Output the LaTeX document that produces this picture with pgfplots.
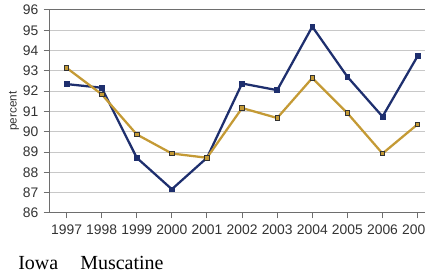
\documentclass[border=0pt]{standalone}
\usepackage{pgfplots}
\pgfplotsset{compat=1.18}
\usepackage{fontspec}
\setmainfont{Liberation Sans}
\newfontfamily\seriffont{Liberation Serif}
\definecolor{navy}{HTML}{1E2F6E}
\definecolor{gold}{HTML}{C49A35}
\definecolor{gridgray}{HTML}{C8C8C8}
\definecolor{axgray}{HTML}{6E6E6E}
\definecolor{txt}{HTML}{333333}
\begin{document}
\begin{tikzpicture}
\useasboundingbox (0,0) rectangle (318.75pt,206.25pt);
\begin{axis}[
  at={(36.75pt,46.5pt)}, anchor=south west,
  scale only axis, width=282pt, height=152.25pt,
  xmin=-0.5, xmax=10.21, ymin=86, ymax=96,
  xtick={0,1,2,3,4,5,6,7,8,9,10},
  xticklabels={1997,1998,1999,2000,2001,2002,2003,2004,2005,2006,2007},
  ytick={86,87,88,89,90,91,92,93,94,95,96},
  ymajorgrids, grid style={gridgray, line width=0.75pt},
  axis x line*=bottom, axis y line*=left,
  axis line style={-, axgray, line width=0.75pt},
  tick style={axgray, line width=0.75pt},
  tick align=outside, major tick length=4pt,
  /pgf/number format/assume math mode=true,
  ticklabel style={font=\fontsize{10.4}{12}\selectfont, text=txt},
  xticklabel style={anchor=base, yshift=-12.2pt},
  yticklabel style={anchor=east, xshift=-0.5pt},
]
\draw[axgray, line width=0.75pt] (rel axis cs:0,1) -- (rel axis cs:1,1);
\addplot[navy, line width=1.7pt, mark=square*, mark size=1.8pt, mark options={fill=navy, draw=navy, line width=0.5pt}]
  coordinates {(0,92.35) (1,92.17) (2,88.72) (3,87.17) (4,88.72) (5,92.38) (6,92.05) (7,95.18) (8,92.71) (9,90.75) (10,93.73)};
\addplot[gold, line width=1.7pt, mark=square*, mark size=1.7pt, mark options={fill=gold, draw=black!80, line width=0.6pt}]
  coordinates {(0,93.15) (1,91.85) (2,89.87) (3,88.93) (4,88.72) (5,91.17) (6,90.68) (7,92.65) (8,90.92) (9,88.93) (10,90.37)};
\end{axis}
\node[rotate=90, font=\fontsize{8.8}{10}\selectfont, text=txt] at (10.5pt,123pt) {percent};
\node[anchor=base west, inner sep=0pt, font=\seriffont\fontsize{15}{18}\selectfont] at (13.5pt,4.5pt) {Iowa};
\node[anchor=base west, inner sep=0pt, font=\seriffont\fontsize{15}{18}\selectfont] at (60pt,4.5pt) {Muscatine};
\end{tikzpicture}
\end{document}
